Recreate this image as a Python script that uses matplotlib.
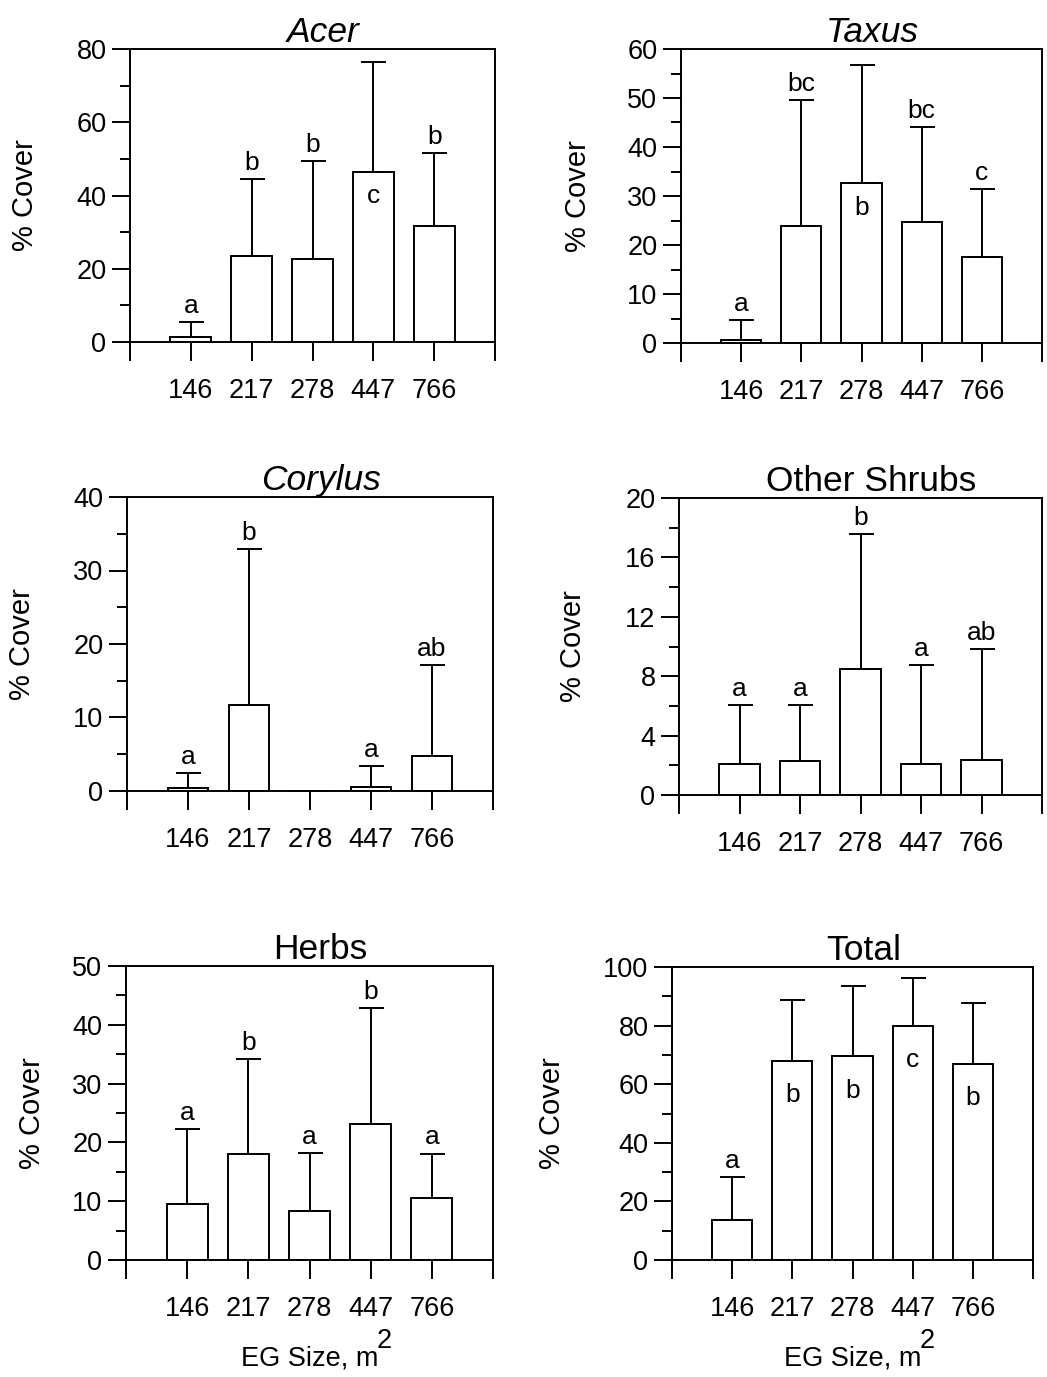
import matplotlib
matplotlib.use("Agg")
import matplotlib.pyplot as plt
from matplotlib.ticker import MultipleLocator, FixedLocator

plt.rcParams['font.family'] = ['Liberation Sans', 'DejaVu Sans']

# Datos
sizes = ['146', '217', '278', '447', '766']

acer_mean = [1.4, 23.6, 22.6, 46.5, 31.8]
acer_sd = [4.1, 20.9, 26.9, 30.0, 19.7]
acer_letters = ['a', 'b', 'b', 'c', 'b']
acer_inside = [False, False, False, True, False]

taxus_mean = [0.7, 23.9, 32.6, 24.7, 17.6]
taxus_sd = [3.9, 25.7, 24.1, 19.3, 13.8]
taxus_letters = ['a', 'bc', 'b', 'bc', 'c']
taxus_inside = [False, False, True, False, False]

corylus_mean = [0.45, 11.7, 0.0, 0.5, 4.8]
corylus_sd = [1.95, 21.2, 0.0, 2.9, 12.3]
corylus_letters = ['a', 'b', '', 'a', 'ab']
corylus_inside = [False, False, False, False, False]

shrubs_mean = [2.07, 2.29, 8.49, 2.11, 2.36]
shrubs_sd = [4.0, 3.78, 9.08, 6.65, 7.46]
shrubs_letters = ['a', 'a', 'b', 'a', 'ab']
shrubs_inside = [False, False, False, False, False]

herbs_mean = [9.46, 17.95, 8.3, 23.2, 10.6]
herbs_sd = [12.84, 16.15, 9.9, 19.7, 7.5]
herbs_letters = ['a', 'b', 'a', 'b', 'a']
herbs_inside = [False, False, False, False, False]

total_mean = [13.5, 68.0, 69.5, 79.9, 67.0]
total_sd = [14.7, 20.8, 24.1, 16.2, 20.7]
total_letters = ['a', 'b', 'b', 'c', 'b']
total_inside = [False, True, True, True, True]

W, H = 1047, 1377

# (titulo, cursiva, medias, sd, letras, dentro, ymax, paso mayor, paso menor,
#  caja en px L,R,T,B, borde derecho del ylabel en px, desplazamiento interior, xlabel)
panels = [
    ('Acer', True, acer_mean, acer_sd, acer_letters, acer_inside, 80, 20, 10, (130, 495, 49, 342), 39, -9, False),
    ('Taxus', True, taxus_mean, taxus_sd, taxus_letters, taxus_inside, 60, 10, 5, (681, 1042, 49, 343), 592, -9, False),
    ('Corylus', True, corylus_mean, corylus_sd, corylus_letters, corylus_inside, 40, 10, 5, (127, 493, 497, 791), 36, -9, False),
    ('Other Shrubs', False, shrubs_mean, shrubs_sd, shrubs_letters, shrubs_inside, 20, 4, 2, (679, 1042, 498, 795), 587, -9, False),
    ('Herbs', False, herbs_mean, herbs_sd, herbs_letters, herbs_inside, 50, 10, 5, (126, 493, 966, 1260), 46, -9, True),
    ('Total', False, total_mean, total_sd, total_letters, total_inside, 100, 20, 10, (672, 1033, 967, 1260), 566, -16, True),
]

fig = plt.figure(figsize=(W / 100, H / 100), dpi=100)
lw = 1.4

for (title, italic, mean, sd, letters, inside, ymax, major, minor, box,
     ylab_x, in_off, has_xlabel) in panels:
    L, R, T, B = box
    ax = fig.add_axes([L / W, 1 - B / H, (R - L) / W, (B - T) / H])
    x = list(range(1, len(sizes) + 1))
    ax.bar(x, mean, width=0.67, color='white', edgecolor='black', linewidth=lw, zorder=2)
    for xi, m, s in zip(x, mean, sd):
        if s > 0:
            ax.errorbar(xi, m, yerr=[[0], [s]], fmt='none', ecolor='black',
                        elinewidth=lw, capsize=9, capthick=lw, zorder=3)
    for xi, m, s, let, ins in zip(x, mean, sd, letters, inside):
        if not let:
            continue
        if ins:
            ax.annotate(let, (xi, m), xytext=(0, in_off), textcoords='offset points',
                        ha='center', va='top', fontsize=19)
        else:
            ax.annotate(let, (xi, m + s), xytext=(0, 3), textcoords='offset points',
                        ha='center', va='bottom', fontsize=19)

    ax.set_xlim(0, 6)
    ax.set_ylim(0, ymax)
    ax.xaxis.set_major_locator(FixedLocator(range(0, 7)))
    ax.set_xticklabels([''] + sizes + [''])
    ax.yaxis.set_major_locator(MultipleLocator(major))
    ax.yaxis.set_minor_locator(MultipleLocator(minor))
    ax.tick_params(axis='x', direction='out', length=14, width=lw, pad=12, labelsize=19.5)
    ax.tick_params(axis='y', which='major', direction='out', length=13, width=lw, pad=4, labelsize=19.5)
    ax.tick_params(axis='y', which='minor', direction='out', length=7, width=lw)
    for sp in ax.spines.values():
        sp.set_linewidth(lw)
    ax.set_ylabel('% Cover', fontsize=21)
    ax.yaxis.set_label_coords((ylab_x - L) / (R - L), 0.5)
    ax.set_title(title, fontsize=25.5, style='italic' if italic else 'normal', pad=4, x=0.53)
    if has_xlabel:
        ax.set_xlabel('EG Size, m', fontsize=19.5, labelpad=17)
        ax.annotate('2', xy=(0.99, 0.68), xycoords=ax.xaxis.label,
                    ha='left', va='bottom', fontsize=19.5)

fig.savefig('out.png', dpi=100)
